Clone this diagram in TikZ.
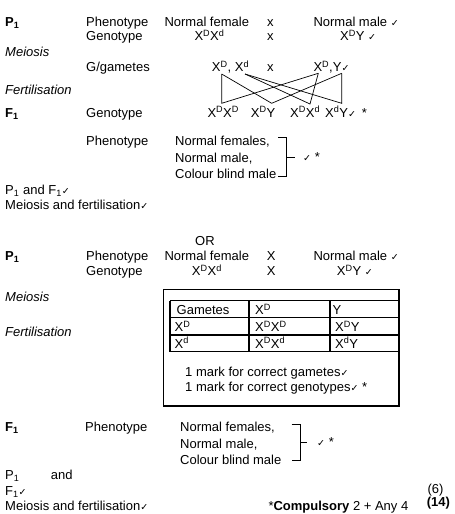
\documentclass[tikz,border=0pt]{standalone}
\usepackage{fontspec}
\setmainfont{Liberation Sans}
\newfontfamily\tickfont{DejaVu Sans}
\usepackage{tikz}
\usetikzlibrary{positioning}
\newcommand{\chk}{{\tickfont\fontsize{9.5}{9.5}\selectfont ✓}}
\newcommand{\XD}{X\textsuperscript{D}}
\newcommand{\Xd}{X\textsuperscript{d}}
\tikzset{
	txtnode/.style={anchor=base west, inner sep=0pt, font=\fontsize{13}{15}\selectfont},
	itnode/.style={txtnode, font=\fontsize{13}{15}\selectfont\itshape},
	gridline/.style={line width=1.5pt},
	crossline/.style={line width=0.7pt},
	braceline/.style={line width=0.8pt}
}
\begin{document}
\begin{tikzpicture}[x=1pt, y=-1pt]
		\useasboundingbox (0,0) rectangle (455,514);
		
		% first cross
		\node[txtnode] at (5,26) (p1a) {\textbf{P\textsubscript{1}}};
		\node[txtnode] at (86,26) (ph1) {Phenotype};
		\node[txtnode] at (164.3,26) (nf1) {Normal female};
		\node[txtnode] at (267,26) (x1) {x};
		\node[txtnode] at (313.3,26) (nm1) {Normal male \chk};
		\node[txtnode] at (86,40.7) (gt1) {Genotype};
		\node[txtnode] at (194.3,40.7) (gf1) {\XD\Xd};
		\node[txtnode] at (267,40.7) (x2) {x};
		\node[txtnode] at (340,40.7) (gm1) {\XD Y \chk};
		\node[itnode] at (5,56) (mei1) {Meiosis};
		\node[txtnode] at (86,71.7) (gam1) {G/gametes};
		\node[txtnode] at (211.7,71.7) (fg1) {\XD, \Xd};
		\node[txtnode] at (267,71.7) (x3) {x};
		\node[txtnode] at (313.3,71.7) (mg1) {\XD,Y\chk};
		\node[itnode] at (5,94.3) (fer1) {Fertilisation};
		\node[txtnode] at (5,117) (f1a) {\textbf{F\textsubscript{1}}};
		\node[txtnode] at (86,117) (gt2) {Genotype};
		\node[txtnode] at (207.3,117) (o1) {\XD\XD};
		\node[txtnode] at (250.7,117) (o2) {\XD Y};
		\node[txtnode] at (290,117) (o3) {\XD\Xd};
		\node[txtnode] at (325,117) (o4) {\Xd Y\chk};
		\node[txtnode] at (361.7,117) (st1) {*};
		
		\coordinate (fD) at (221.7,74);
		\coordinate (fd) at (245,74);
		\coordinate (mD) at (318.3,73.3);
		\coordinate (mY) at (341.7,73.3);
		\coordinate (cDD) at (221.7,103.3);
		\coordinate (cDY) at (271.7,103.3);
		\coordinate (cDd) at (310,104);
		\coordinate (cdY) at (341.7,103.3);
		\draw[crossline] (fD) -- (cDD) -- (mD);
		\draw[crossline] (fD) -- (cDY) -- (mY);
		\draw[crossline] (fd) -- (cDd) -- (mD);
		\draw[crossline] (fd) -- (cdY) -- (mY);
		
		\node[txtnode] at (86,145.7) (ph2) {Phenotype};
		\node[txtnode] at (175,145.7) (pa1) {Normal females,};
		\node[txtnode] at (175,162.7) (pb1) {Normal male,};
		\node[txtnode] at (175,178.3) (pc1) {Colour blind male};
		\draw[braceline] (278.3,137.7) -- (286.7,137.7) -- (286.7,176.7) -- (278.3,176.7);
		\draw[braceline] (286.7,157.3) -- (295,157.3);
		\node[txtnode, anchor=west] at (303,157.3) (tk1) {\chk\ *};
		
		\node[txtnode] at (5,194.3) (pf1) {P\textsubscript{1} and F\textsubscript{1}\chk};
		\node[txtnode] at (5,209.3) (mf1) {Meiosis and fertilisation\chk};
		
		% second cross
		\node[txtnode] at (195,245.7) (or) {OR};
		\node[txtnode] at (5,260.7) (p1b) {\textbf{P\textsubscript{1}}};
		\node[txtnode] at (86,260.7) (ph3) {Phenotype};
		\node[txtnode] at (164.3,260.7) (nf2) {Normal female};
		\node[txtnode] at (266.7,260.7) (x4) {X};
		\node[txtnode] at (313.3,260.7) (nm2) {Normal male \chk};
		\node[txtnode] at (86,275.5) (gt3) {Genotype};
		\node[txtnode] at (191.7,275.5) (gf2) {\XD\Xd};
		\node[txtnode] at (266.7,275.5) (x5) {X};
		\node[txtnode] at (336.7,275.5) (gm2) {\XD Y \chk};
		\node[itnode] at (5,301.7) (mei2) {Meiosis};
		\node[itnode] at (5,336) (fer2) {Fertilisation};
		
		\draw[gridline] (163.5,289.5) rectangle (399,406);
		\draw[gridline] (170,300.7) -- (399,300.7);
		\draw[gridline] (170,317.3) -- (399,317.3);
		\draw[gridline] (170,335) -- (399,335);
		\draw[gridline] (170,351.7) -- (399,351.7);
		\draw[gridline] (170,300.7) -- (170,351.7);
		\draw[gridline] (249,300.7) -- (249,351.7);
		\draw[gridline] (330,300.7) -- (330,351.7);
		\node[txtnode] at (176.5,314.5) (c11) {Gametes};
		\node[txtnode] at (255,314.5) (c12) {\XD};
		\node[txtnode] at (332.5,314.5) (c13) {Y};
		\node[txtnode] at (174.5,331.5) (c21) {\XD};
		\node[txtnode] at (255,331.5) (c22) {\XD\XD};
		\node[txtnode] at (335,331.5) (c23) {\XD Y};
		\node[txtnode] at (174.5,348) (c31) {\Xd};
		\node[txtnode] at (255,348) (c32) {\XD\Xd};
		\node[txtnode] at (335,348) (c33) {\Xd Y};
		\node[txtnode] at (185,376) (mk1) {1 mark for correct gametes\chk};
		\node[txtnode] at (185,391.7) (mk2) {1 mark for correct genotypes\chk\ *};
		
		\node[txtnode] at (5,431.7) (f1b) {\textbf{F\textsubscript{1}}};
		\node[txtnode] at (85,431.7) (ph4) {Phenotype};
		\node[txtnode] at (180,431.7) (pa2) {Normal females,};
		\node[txtnode] at (180,448.3) (pb2) {Normal male,};
		\node[txtnode] at (180,464) (pc2) {Colour blind male};
		\draw[braceline] (291.7,424) -- (300,424) -- (300,460.7) -- (291.7,460.7);
		\draw[braceline] (300,442.3) -- (306.7,442.3);
		\node[txtnode, anchor=west] at (317,442.3) (tk2) {\chk\ *};
		
		\node[txtnode] at (5,479) (p1c) {P\textsubscript{1}};
		\node[txtnode] at (50.7,479) (and1) {and};
		\node[txtnode] at (5,495) (f1c) {F\textsubscript{1}\chk};
		\node[txtnode] at (5,510.7) (mf2) {Meiosis and fertilisation\chk};
		\node[txtnode] at (268.3,510.7) (comp) {*\textbf{Compulsory} 2 + Any 4};
		\node[txtnode] at (427.3,493) (six) {(6)};
		\node[txtnode] at (426.7,506) (ftn) {\textbf{(14)}};
	\end{tikzpicture}
\end{document}
